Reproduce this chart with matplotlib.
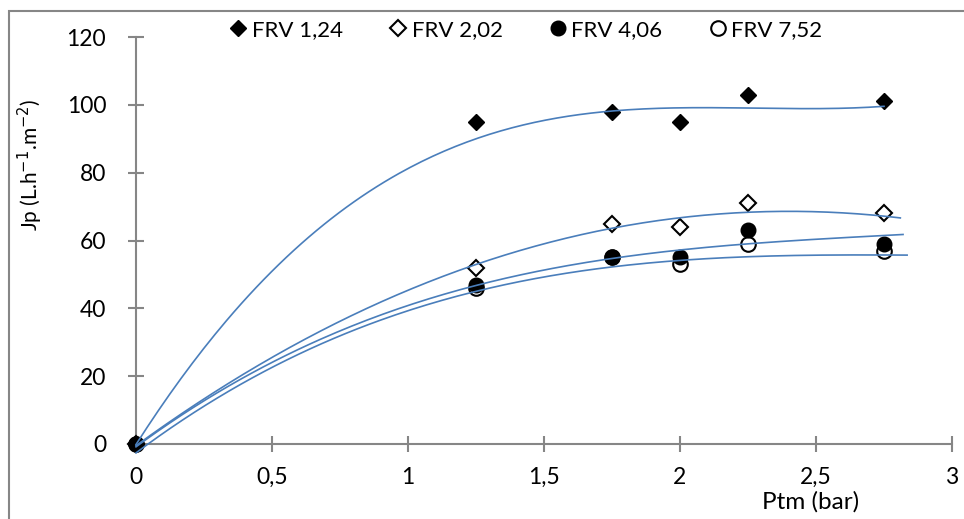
import numpy as np
import matplotlib.pyplot as plt
from matplotlib.patches import Rectangle

plt.rcParams['font.family'] = ['Lato', 'DejaVu Sans']

# Pression transmembranaire (bar)
ptm = [0, 1.25, 1.75, 2.0, 2.25, 2.75]

# Flux de perméat Jp pour chaque FRV
jp_124 = [0, 95, 98, 95, 103, 101]
jp_202 = [0, 52, 65, 64, 71, 68]
jp_406 = [0, 47, 55, 55, 63, 59]
jp_752 = [0, 46, 55, 53, 59, 57]

# Courbes de tendance polynomiales, coefficients du plus haut degré au terme constant
trend_124 = [0.592, 4.539, -49.494, 125.729, -0.149]
trend_202 = [0.132, -12.615, 58.301, -0.490]
trend_406 = [2.387, -19.817, 59.104, -0.836]
trend_752 = [2.286, -20.402, 60.036, -2.621]
trend_end = [2.75, 2.81, 2.82, 2.835]

labels = ['FRV 1,24', 'FRV 2,02', 'FRV 4,06', 'FRV 7,52']
series = [jp_124, jp_202, jp_406, jp_752]
trends = [trend_124, trend_202, trend_406, trend_752]

x_ticks = [0, 0.5, 1, 1.5, 2, 2.5, 3]
x_tick_labels = ['0', '0,5', '1', '1,5', '2', '2,5', '3']
y_ticks = [0, 20, 40, 60, 80, 100, 120]

# losange plein, losange vide, rond plein, rond vide
styles = [
    dict(marker='D', markersize=8.5, mfc='black', mec='black'),
    dict(marker='D', markersize=8.5, mfc='white', mec='black', mew=1.5),
    dict(marker='o', markersize=10.5, mfc='black', mec='black'),
    dict(marker='o', markersize=10.5, mfc='white', mec='black', mew=1.5),
]
marker_z = [3, 3, 3.2, 3.1]

fig = plt.figure(figsize=(9.64, 5.19), dpi=100)
ax = fig.add_axes([136 / 964, 75 / 519, 816 / 964, 407 / 519])

trend_color = '#4A7EBB'
for y, coef, lab, st, z, xe in zip(series, trends, labels, styles, marker_z, trend_end):
    ax.plot(ptm, y, linestyle='none', label=lab, zorder=z, clip_on=False, **st)
    xs = np.linspace(0, xe, 200)
    ax.plot(xs, np.polyval(coef, xs), color=trend_color, lw=1.2, zorder=4,
            clip_on=False)

ax.set_xlim(0, 3)
ax.set_ylim(0, 120)
ax.set_xticks(x_ticks)
ax.set_xticklabels(x_tick_labels)
ax.set_yticks(y_ticks)

for side in ['top', 'right']:
    ax.spines[side].set_visible(False)
for side in ['left', 'bottom']:
    ax.spines[side].set_color('#868686')
    ax.spines[side].set_linewidth(1.5)
ax.tick_params(direction='inout', length=11, width=1.5, color='#868686',
               labelsize=16.5, labelcolor='black')
ax.tick_params(axis='x', pad=11)
ax.tick_params(axis='y', pad=16)

ax.set_ylabel('Jp (L.h$^{-1}$.m$^{-2}$)', fontsize=15)
ax.yaxis.set_label_coords(-0.112, 0.686)
fig.text(811 / 964, 1 - 502 / 519, 'Ptm (bar)', fontsize=17.5,
         ha='center', va='center')

ax.legend(loc='center', bbox_to_anchor=(526 / 964, 1 - 30 / 519),
          bbox_transform=fig.transFigure, ncol=4, frameon=False,
          fontsize=16, handlelength=0.8, handletextpad=0.2, columnspacing=2.1,
          borderpad=0)

# cadre extérieur du graphique
fig.patches.append(Rectangle((9 / 964, -0.1), 1.1, 1.1 - 11 / 519,
                             transform=fig.transFigure, fill=False,
                             edgecolor='#868686', linewidth=1.5))

fig.savefig('out.png', dpi=100)
